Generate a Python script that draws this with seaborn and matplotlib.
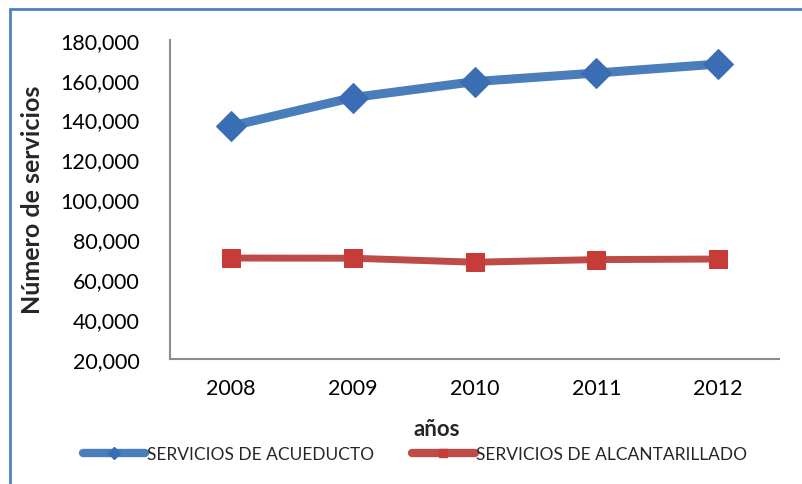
import numpy as np
import pandas as pd
import matplotlib
matplotlib.use("Agg")
import matplotlib.pyplot as plt
import seaborn as sns
from matplotlib.lines import Line2D
from matplotlib.ticker import FuncFormatter

# data
years = ["2008", "2009", "2010", "2011", "2012"]
acueducto = [136700, 151000, 159000, 163300, 167800]
alcantarillado = [70600, 70500, 68500, 69800, 70100]
series_names = ["SERVICIOS DE ACUEDUCTO", "SERVICIOS DE ALCANTARILLADO"]

df = pd.DataFrame({
    "año": years * 2,
    "valor": acueducto + alcantarillado,
    "serie": [series_names[0]] * 5 + [series_names[1]] * 5,
})

sns.set_style("white")
plt.rcParams["font.family"] = ["Lato", "DejaVu Sans"]

BLUE, BLUE_MK = "#4A7EBB", "#3A6DB3"
RED, RED_MK = "#BE4B48", "#C63C38"

fig = plt.figure(figsize=(8.02, 4.85), dpi=100)
ax = fig.add_axes([170 / 802, 1 - 360 / 485, (779 - 170) / 802, (360 - 40.7) / 485])

styles = [
    (series_names[0], BLUE, BLUE_MK, "D", 15, 6.5),
    (series_names[1], RED, RED_MK, "s", 13, 5),
]
for name, lc, mc, mk, ms, lw in styles:
    sub = df[df["serie"] == name]
    sns.lineplot(data=sub, x="año", y="valor", ax=ax, color=lc, linewidth=lw,
                 marker=mk, markersize=ms, markerfacecolor=mc,
                 markeredgecolor=mc, legend=False, sort=False)

ax.set_xlim(-0.5, 4.5)
ax.set_ylim(20000, 180000)
ax.set_yticks(np.arange(20000, 180001, 20000))
ax.yaxis.set_major_formatter(FuncFormatter(lambda v, p: f"{int(v):,}"))
ax.tick_params(axis="both", length=0, labelsize=15.5, colors="black")
ax.tick_params(axis="y", pad=22)
ax.tick_params(axis="x", pad=14)

for side in ["top", "right"]:
    ax.spines[side].set_visible(False)
for side in ["left", "bottom"]:
    ax.spines[side].set_color("#8C8C8C")
    ax.spines[side].set_linewidth(1.5)

ax.set_xlabel("")
ax.set_ylabel("")
fig.text(33 / 802, 1 - 200 / 485, "Número de servicios", rotation=90,
         fontsize=18, fontweight="bold", ha="center", va="center")
fig.text(437 / 802, 1 - 430 / 485, "años", fontsize=16,
         fontweight="bold", ha="center", va="center")

handles = [
    Line2D([], [], color=BLUE, linewidth=6, marker="D", markersize=6,
           markerfacecolor=BLUE_MK, markeredgecolor=BLUE_MK),
    Line2D([], [], color=RED, linewidth=6, marker="s", markersize=6,
           markerfacecolor=RED_MK, markeredgecolor=RED_MK),
]
fig.legend(handles, series_names, loc="center", ncol=2,
           bbox_to_anchor=(415 / 802, 1 - 455 / 485), frameon=False,
           fontsize=12.5, handlelength=3.6, handletextpad=0.1,
           columnspacing=2.2)

# blue frame on the top and left edges
fig.add_artist(Line2D([10 / 802, 1], [1 - 10 / 485, 1 - 10 / 485],
                      color="#4F81BD", linewidth=2, transform=fig.transFigure))
fig.add_artist(Line2D([10 / 802, 10 / 802], [0, 1 - 10 / 485],
                      color="#4F81BD", linewidth=2, transform=fig.transFigure))

fig.savefig("out.png", dpi=100)
